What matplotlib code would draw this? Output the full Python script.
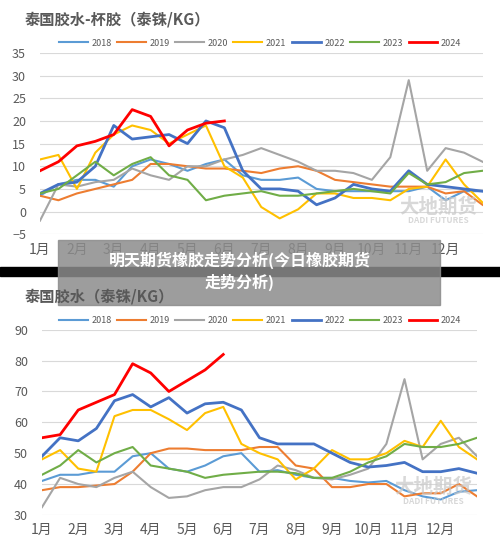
import numpy as np
import matplotlib.pyplot as plt
import matplotlib.patches as mpatches

plt.rcParams['font.family'] = ['Noto Sans CJK SC', 'DejaVu Sans']

years = ['2018', '2019', '2020', '2021', '2022', '2023', '2024']
colors = ['#5B9BD5', '#ED7D31', '#A5A5A5', '#FFC000', '#4472C4', '#70AD47', '#FF0000']
months = ['1月', '2月', '3月', '4月', '5月', '6月', '7月', '8月', '9月', '10月', '11月', '12月']
x = np.arange(25) * 0.5  # half-month steps

# top: cup lump premium
cup = {
    '2018': [3.5, 6, 7, 7, 5.5, 10, 11.5, 10.5, 9, 10.5, 11.5, 8, 7, 7, 7.5, 5, 4.5, 4.5, 4.5, 4.5, 4.5, 5.5, 2.5, 4.5, 4.5],
    '2019': [3.5, 2.5, 4, 5, 6, 7, 10.5, 10.5, 10, 9.5, 9.5, 9, 8.5, 9.5, 10, 9, 7, 6.5, 6, 5.5, 5.5, 5.5, 4, 4.5, 1.5],
    '2020': [-2, 6, 5.5, 6.5, 7, 9.5, 8, 7, 10, 10, 11.5, 12.5, 14, 12.5, 11, 9, 9, 8.5, 7, 12, 29, 9, 14, 13, 11],
    '2021': [11.5, 12.5, 5, 13, 17, 19, 18, 15, 17, 19, 10, 7.5, 1, -1.5, 0.5, 4, 4, 3, 3, 2.5, 5, 5.5, 11.5, 6, 2],
    '2022': [4, 6, 6.5, 10, 19, 16, 16.5, 17, 15, 20, 18.5, 9, 5, 5, 4.5, 1.5, 3, 6, 5, 4.5, 9, 6, 5.5, 5, 4.5],
    '2023': [4, 5, 8, 11, 8, 10.5, 12, 8, 7, 2.5, 3.5, 4, 4.5, 3.5, 3.5, 4, 4.5, 5, 4.5, 4, 8.5, 6, 6.5, 8.5, 9],
    '2024': [9, 11, 14.5, 15.5, 17, 22.5, 21, 14.5, 18, 19.5, 20],
}
# bottom: field latex
latex = {
    '2018': [41, 43, 43, 44, 44, 49, 50, 45, 44, 46, 49, 50, 44, 44.5, 43, 42, 42, 41, 40.5, 41, 38, 36, 35, 37.5, 38],
    '2019': [38, 39, 39, 39.5, 40, 44, 50, 51.5, 51.5, 51, 51, 51, 52, 52, 46, 45, 39, 39, 40, 40, 36, 37, 37, 40, 36],
    '2020': [32.5, 42, 40, 39, 42, 44, 39, 35.5, 36, 38, 39, 39, 41.5, 46, 44.5, 42, 41.5, 43, 45, 53, 74, 48, 53, 55, 49],
    '2021': [48, 51, 45, 44, 62, 64, 64, 61, 57.5, 63, 65, 53, 50, 48, 41.5, 45, 51, 48, 48, 50, 54, 52, 60.5, 52, 48],
    '2022': [49, 55, 54, 58, 67, 69, 65, 68, 63, 66, 66.5, 64, 55, 53, 53, 53, 50, 47, 45.5, 46, 47, 44, 44, 45, 43.5],
    '2023': [43, 46, 51, 47, 50, 52, 46, 45, 44, 42, 43, 43.5, 44, 44, 43.5, 42, 42, 44, 47, 49, 53, 52, 52, 53, 55],
    '2024': [55, 56, 64, 66.5, 69, 79, 76, 70, 73.5, 77, 82],
}

fig = plt.figure(figsize=(5, 5.46), dpi=100)


def draw(ax, data, ylim, step, title, ttl_y, leg_y):
    for yr, c in zip(years, colors):
        v = data[yr]
        ax.plot(x[:len(v)], v, color=c, lw=2 if yr in ('2022', '2024') else 1.5, label=yr)
    ax.set_xlim(0, 12)
    ax.set_ylim(*ylim)
    ax.set_yticks(np.arange(ylim[0], ylim[1] + 1, step))
    ax.set_xticks(np.arange(12))
    ax.set_xticklabels(months)
    ax.grid(axis='y', color='#D9D9D9', lw=0.8)
    for s in ax.spines.values():
        s.set_visible(False)
    ax.tick_params(length=0, labelsize=9, colors='#595959')
    ax.tick_params(axis='y', pad=10)
    ax.tick_params(axis='x', labelsize=10, pad=6)
    fig.text(0.05, ttl_y, title, fontsize=11, fontweight='bold', color='#595959')
    fig.legend(*ax.get_legend_handles_labels(), loc='center', bbox_to_anchor=(0.52, leg_y),
               ncol=7, frameon=False, fontsize=6.5, handlelength=3.2, columnspacing=0.6,
               handletextpad=0.4, labelcolor='#595959')
    ax.text(0.9, 0.12, '大地期货', transform=ax.transAxes, fontsize=14, color='#C8C8C8',
            ha='center', fontweight='bold', alpha=0.7)
    ax.text(0.9, 0.06, 'DADI FUTURES', transform=ax.transAxes, fontsize=6, color='#C8C8C8',
            ha='center', fontweight='bold', alpha=0.7)


ax1 = fig.add_axes([0.08, 0.571, 0.885, 0.332])
draw(ax1, cup, (-5, 35), 5, '泰国胶水-杯胶（泰铢/KG）', 0.955, 0.921)
ax2 = fig.add_axes([0.084, 0.057, 0.87, 0.339])
draw(ax2, latex, (30, 90), 10, '泰国胶水（泰铢/KG）', 0.448, 0.413)

# overlay banner
fig.patches.append(mpatches.Rectangle((0, 0.495), 1, 0.016, transform=fig.transFigure, color='black'))
fig.patches.append(mpatches.Rectangle((0.116, 0.441), 0.764, 0.12, transform=fig.transFigure,
                                      color='#8C8C8C', alpha=0.85))
fig.text(0.48, 0.503, '明天期货橡胶走势分析(今日橡胶期货\n走势分析)', ha='center', va='center',
         color='white', fontsize=11.5, fontweight='bold', linespacing=1.3)

fig.savefig('out.png')
